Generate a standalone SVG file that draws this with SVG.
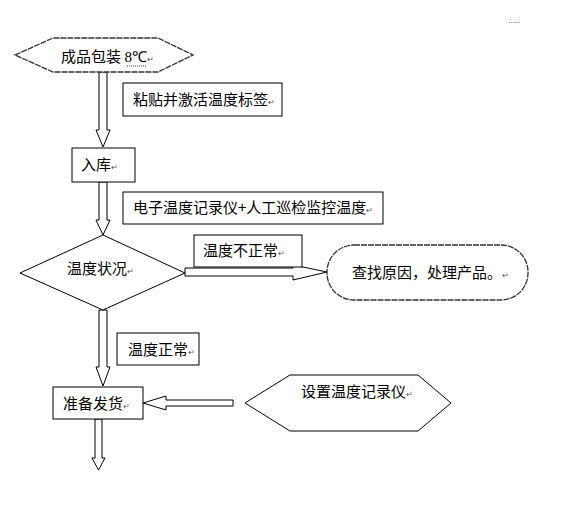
<svg xmlns="http://www.w3.org/2000/svg" width="565" height="514" viewBox="0 0 565 514">
<style>
.shape{fill:#fff;stroke:#000;stroke-width:1}
.soft{fill:#fff;stroke:#333;stroke-width:1.3;stroke-dasharray:6 1}
.arrow{fill:#fff;stroke:#000;stroke-width:1}
.t{font-family:"Noto Sans CJK SC","Noto Sans CJK JP",sans-serif;font-size:15px;fill:#000}
.pm{font-size:8px;fill:#555}
</style>
<rect width="565" height="514" fill="#fff"/>
<text x="508" y="23" style="font-family:'Liberation Sans',sans-serif;font-size:9px;fill:#555">.....</text>
<g id="connectors">
<polygon class="arrow" points="99,72 107,72 107,130 110,130 103,147 96,130 99,130"/>
<polygon class="arrow" points="99,182 107,182 107,220 110,220 103,235 96,220 99,220"/>
<polygon class="arrow" points="99,310 107,310 107,367 110,367 103,386 96,367 99,367"/>
<polygon class="arrow" points="95,419 102,419 102,458 105,458 98.5,470 92,458 95,458"/>
<polygon class="arrow" points="185,268 293,268 293,265 327,272 293,280 293,276 185,276"/>
<polygon class="arrow" points="233,400 166,400 166,396 143,403 166,410 166,406 233,406"/>
</g>
<g id="node-package">
<polygon class="soft" points="15,55 53,38 158,38 193,55 158,72 53,72"/>
<text class="t" x="61" y="62">成品包装 <tspan style="font-family:'Liberation Serif',serif">8℃</tspan><tspan class="pm">↵</tspan></text>
<line x1="127" y1="66" x2="147" y2="66" stroke="#333" stroke-dasharray="1 1"/>
</g>
<g id="label-label">
<rect class="shape" x="123" y="83" width="159" height="33"/>
<text class="t" x="133" y="105">粘贴并激活温度标签<tspan class="pm">↵</tspan></text>
</g>
<g id="node-storage">
<rect class="shape" x="72" y="148" width="63" height="34"/>
<text class="t" x="81" y="170">入库<tspan class="pm">↵</tspan></text>
</g>
<g id="label-monitor">
<rect class="shape" x="123" y="192" width="260" height="32"/>
<text class="t" x="133" y="213">电子温度记录仪+人工巡检监控温度<tspan class="pm">↵</tspan></text>
</g>
<g id="node-status">
<polygon class="shape" points="103,235 185,273 103,310 20,273"/>
<text class="t" x="67" y="274">温度状况<tspan class="pm">↵</tspan></text>
</g>
<g id="label-abnormal">
<rect class="shape" x="194" y="235" width="108" height="32"/>
<text class="t" x="203" y="256">温度不正常<tspan class="pm">↵</tspan></text>
</g>
<g id="node-handle">
<rect class="soft" x="327" y="245" width="201" height="55" rx="27" ry="27"/>
<text class="t" x="352" y="278">查找原因，处理产品。<tspan class="pm">↵</tspan></text>
</g>
<g id="label-normal">
<rect class="shape" x="117" y="333" width="82" height="32"/>
<text class="t" x="128" y="355">温度正常<tspan class="pm">↵</tspan></text>
</g>
<g id="node-ship">
<rect class="shape" x="53" y="387" width="90" height="32"/>
<text class="t" x="63" y="409">准备发货<tspan class="pm">↵</tspan></text>
</g>
<g id="node-recorder">
<polygon class="shape" points="245,403 290,375 418,375 451,403 418,431 290,431"/>
<text class="t" x="301" y="397">设置温度记录仪<tspan class="pm">↵</tspan></text>
</g>
</svg>
